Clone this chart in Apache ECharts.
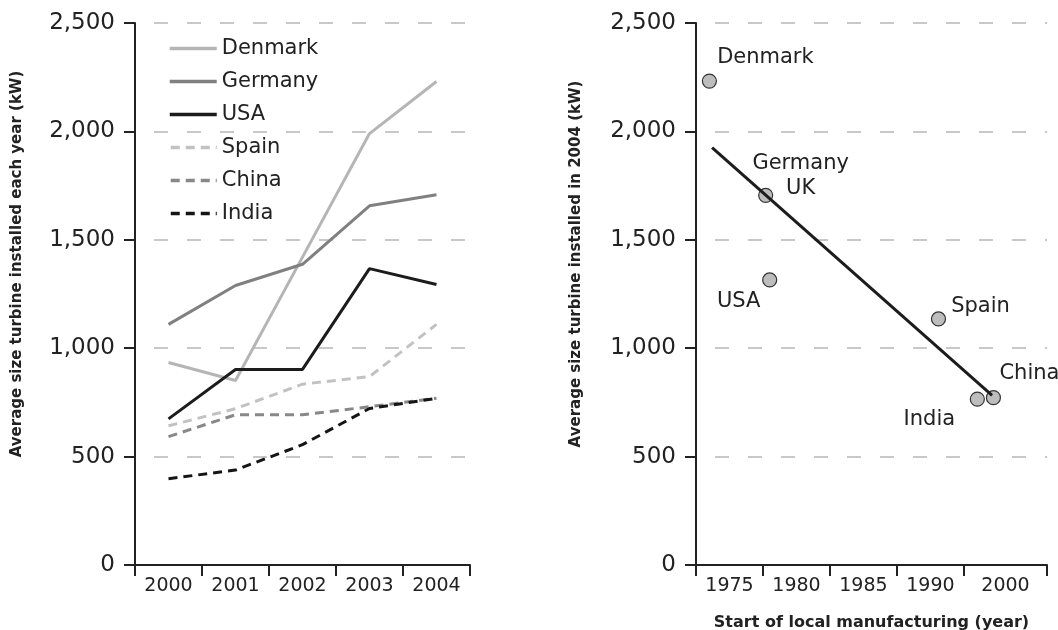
<!DOCTYPE html>
<html>
<head>
<meta charset="utf-8">
<script src="https://cdn.jsdelivr.net/npm/echarts@6/dist/echarts.min.js"></script>
<style>
  html, body { margin: 0; padding: 0; background: #fff; }
  #chart { width: 1058px; height: 630px; }
</style>
</head>
<body>
<div id="chart"></div>
<script>
// left panel: average turbine size per year
var years = ['2000', '2001', '2002', '2003', '2004'];
var denmark = [934, 851, 1420, 1990, 2230];
var germany = [1110, 1289, 1387, 1657, 1708];
var usa = [674, 902, 902, 1367, 1294];
var spain = [642, 721, 834, 869, 1110];
var china = [592, 693, 693, 730, 769];
var india = [398, 438, 555, 722, 769];

// right panel: start of local manufacturing vs size in 2004
var countries = ['Denmark', 'Germany\nUK', 'USA', 'Spain', 'India', 'China'];
var startYear = [1973.5, 1977.7, 1978.0, 1990.6, 1993.5, 1994.7];
var size2004 = [2232, 1705, 1315, 1135, 765, 772];
var trendX = [1973.7, 1994.6];
var trendY = [1925, 782];

var xTickPos = [1972.5, 1977.5, 1982.5, 1987.5, 1992.5, 1998.7];
var xLabelPos = [1975, 1980, 1985, 1990, 1995.6];
var xLabels = ['1975', '1980', '1985', '1990', '2000'];

var FONT = 'DejaVu Sans';
var INK = '#222';

// label placement for each point (offset of label centre from the dot)
var labelOffsets = {
  'Denmark': [56, -24],
  'Germany\nUK': [35, -19],
  'USA': [-31, 22],
  'Spain': [42, -12],
  'India': [-48, 20],
  'China': [36, -24]
};

var lineSeries = [
  { name: 'Denmark', data: denmark, color: '#b5b5b5', dash: 'solid' },
  { name: 'Germany', data: germany, color: '#808080', dash: 'solid' },
  { name: 'USA', data: usa, color: '#1c1c1c', dash: 'solid' },
  { name: 'Spain', data: spain, color: '#c2c2c2', dash: [9, 6] },
  { name: 'China', data: china, color: '#888888', dash: [9, 6] },
  { name: 'India', data: india, color: '#151515', dash: [9, 6] }
];

var axisLine = { show: true, lineStyle: { color: INK, width: 2 } };
var axisTick = { show: true, length: 11, lineStyle: { color: INK, width: 2 } };
var splitLine = {
  show: true,
  lineStyle: { color: '#c8c8c8', width: 2, type: [14, 19], dashOffset: 14 }
};

function yAxisFor(gridIndex, name, gap) {
  return {
    type: 'value',
    gridIndex: gridIndex,
    min: 0,
    max: 2500,
    interval: 500,
    axisLine: axisLine,
    axisTick: axisTick,
    splitLine: splitLine,
    axisLabel: {
      color: INK,
      fontFamily: FONT,
      fontSize: 23,
      margin: 20,
      formatter: function (v) {
        return v.toString().replace(/\B(?=(\d{3})+(?!\d))/g, ',');
      }
    },
    name: name,
    nameLocation: 'middle',
    nameGap: gap,
    nameTextStyle: {
      color: INK,
      fontFamily: FONT,
      fontSize: 15,
      fontWeight: 'bold',
      padding: [0, 0, 0, 60]
    }
  };
}

var series = lineSeries.map(function (s) {
  return {
    name: s.name,
    type: 'line',
    xAxisIndex: 0,
    yAxisIndex: 0,
    data: s.data,
    symbol: 'none',
    color: s.color,
    lineStyle: { color: s.color, width: 3, type: s.dash },
    animation: false
  };
});

series.push({
  type: 'scatter',
  xAxisIndex: 1,
  yAxisIndex: 1,
  z: 2,
  symbolSize: 14,
  itemStyle: { color: '#bdbdbd', borderColor: '#333', borderWidth: 1.2, opacity: 1 },
  label: {
    show: true,
    position: 'inside',
    align: 'center',
    verticalAlign: 'middle',
    color: INK,
    textBorderWidth: 0,
    fontFamily: FONT,
    fontSize: 21,
    lineHeight: 25,
    formatter: function (p) { return p.name; }
  },
  data: countries.map(function (c, i) {
    return {
      name: c,
      value: [startYear[i], size2004[i]],
      label: { offset: labelOffsets[c] }
    };
  }),
  animation: false
});

series.push({
  type: 'line',
  xAxisIndex: 1,
  yAxisIndex: 1,
  z: 3,
  symbol: 'none',
  lineStyle: { color: '#1c1c1c', width: 3 },
  data: trendX.map(function (x, i) { return [x, trendY[i]]; }),
  animation: false
});

var chart = echarts.init(document.getElementById('chart'));
chart.setOption({
  backgroundColor: '#fff',
  animation: false,
  grid: [
    { left: 135, right: 588, top: 23, bottom: 65, outerBoundsMode: 'none' },
    { left: 696, right: 11, top: 23, bottom: 65, outerBoundsMode: 'none' }
  ],
  legend: {
    data: lineSeries.map(function (s) { return s.name; }),
    orient: 'vertical',
    left: 163,
    top: 33,
    itemWidth: 47,
    itemHeight: 14,
    itemGap: 12,
    itemStyle: { opacity: 0 },
    lineStyle: { width: 3.5 },
    textStyle: { color: INK, fontFamily: FONT, fontSize: 21 }
  },
  xAxis: [
    {
      type: 'category',
      gridIndex: 0,
      data: years,
      boundaryGap: true,
      axisLine: axisLine,
      axisTick: axisTick,
      splitLine: { show: false },
      axisLabel: { color: INK, fontFamily: FONT, fontSize: 19, margin: 12 }
    },
    {
      type: 'value',
      gridIndex: 1,
      min: 1972.5,
      max: 1998.7,
      axisLine: axisLine,
      axisTick: { show: true, length: 11, lineStyle: { color: INK, width: 2 }, customValues: xTickPos },
      splitLine: { show: false },
      axisLabel: {
        color: INK,
        fontFamily: FONT,
        fontSize: 19,
        margin: 12,
        customValues: xLabelPos,
        formatter: function (v) {
          var i = xLabelPos.indexOf(v);
          return i >= 0 ? xLabels[i] : '';
        }
      },
      name: 'Start of local manufacturing (year)',
      nameLocation: 'middle',
      nameGap: 50,
      nameTextStyle: { color: INK, fontFamily: FONT, fontSize: 16, fontWeight: 'bold' }
    }
  ],
  yAxis: [
    yAxisFor(0, 'Average size turbine installed each year (kW)', 110),
    yAxisFor(1, 'Average size turbine installed in 2004 (kW)', 112)
  ],
  series: series
});
</script>
</body>
</html>
